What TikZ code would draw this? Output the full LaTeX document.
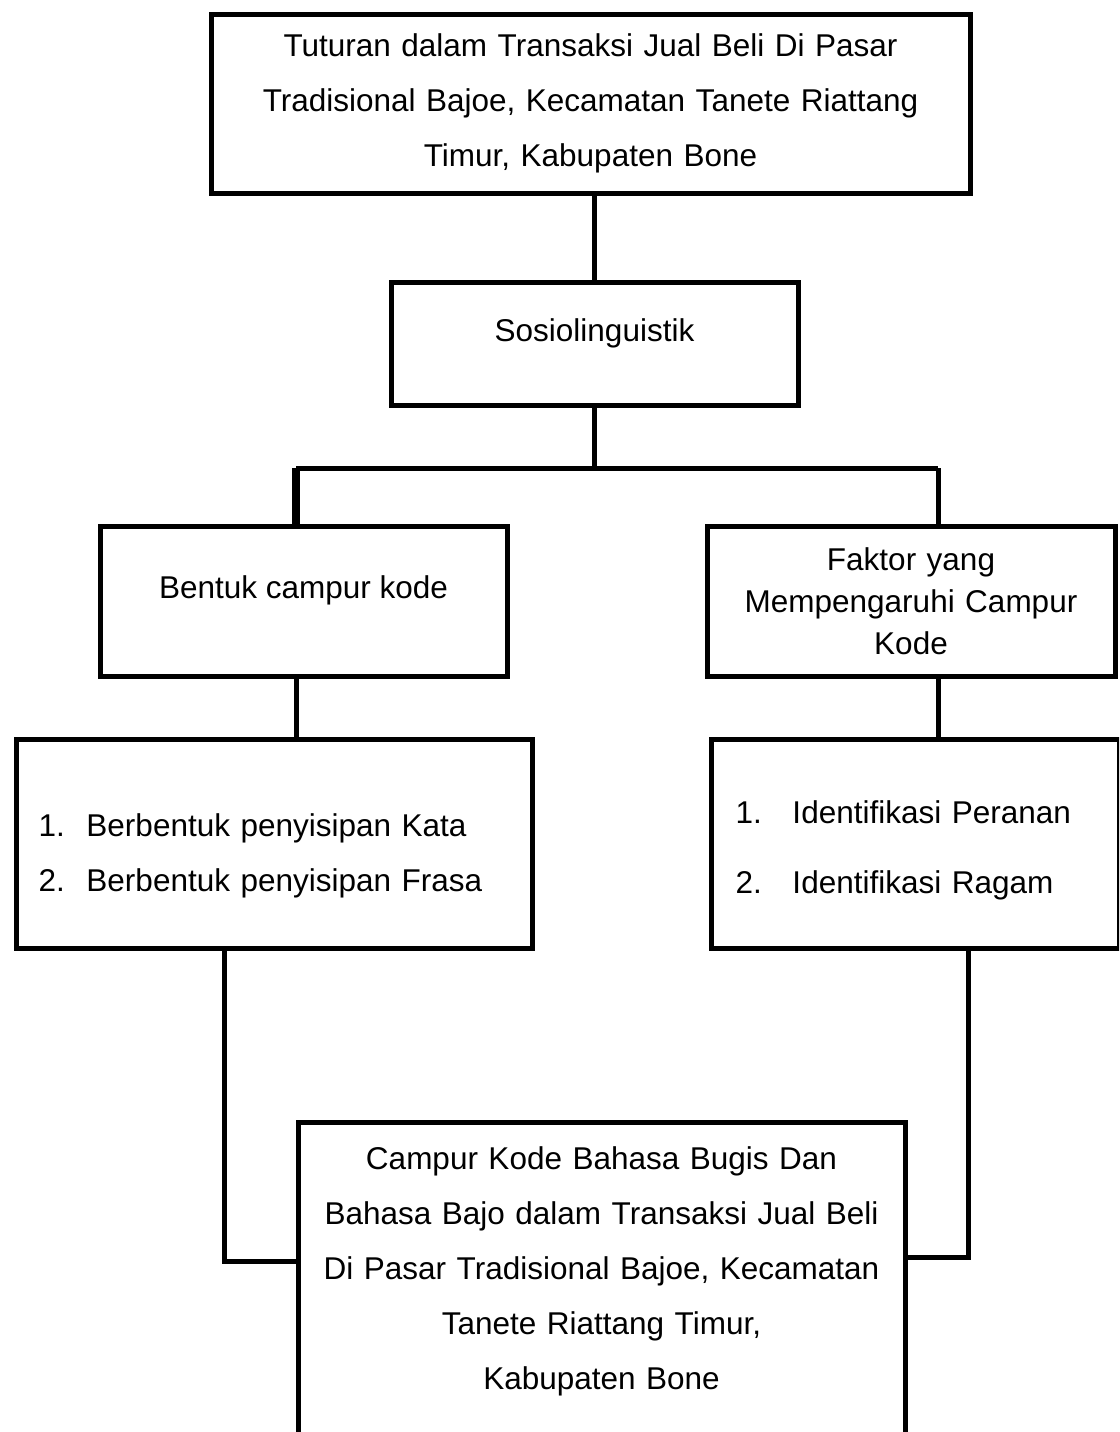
\documentclass[tikz,border=0pt]{standalone}
\usepackage{fontspec}
\setmainfont{Liberation Sans}

\tikzset{every picture/.style={line width=5pt}}
\tikzset{
  box/.style={draw, line width=5pt, inner sep=0pt, font=\fontsize{31.5}{55}\selectfont},
  num/.style={}
}
\newcommand{\itemno}[2][48pt]{\makebox[#1][l]{#2}}

\begin{document}
\begin{tikzpicture}[x=1pt,y=1pt,yscale=-1,xscale=1]
\clip (0,0) rectangle (1119,1432); %set diagram size

%Shape: Rectangle [tutur]
\node [box, anchor=north, text width=759pt, align=center, text height=42pt, text depth=137pt] (tutur) at (590.5,12) {Tuturan dalam Transaksi Jual Beli Di Pasar\\Tradisional Bajoe, Kecamatan Tanete Riattang\\Timur, Kabupaten Bone};
%Shape: Rectangle [socio]
\node [box, anchor=north, minimum width=407pt, text height=59pt, text depth=64pt] (socio) at (594.5,280) {Sosiolinguistik};
%Shape: Rectangle [bentuk]
\node [box, anchor=north, minimum width=407pt, text height=72pt, text depth=78pt] (bentuk) at (303.5,524) {Bentuk campur kode};
%Shape: Rectangle [faktor]
\node [box, anchor=north, text width=408pt, align=center, text height=44pt, text depth=106pt, font=\fontsize{31.5}{42}\selectfont] (faktor) at (911,524) {Faktor yang\\Mempengaruhi Campur\\Kode};
%Shape: Rectangle [bentuklist]
\node [box, anchor=north west, text width=472pt, inner xsep=22pt, align=left, text height=97pt, text depth=112pt] (bentuklist) at (14,737) {\itemno{1.}Berbentuk penyisipan Kata\\\itemno{2.}Berbentuk penyisipan Frasa};
%Shape: Rectangle [faktorlist]
\node [box, anchor=north west, text width=360pt, inner xsep=24pt, align=left, text height=84pt, text depth=125pt, font=\fontsize{31.5}{70}\selectfont] (faktorlist) at (709,737) {\itemno[57pt]{1.}Identifikasi Peranan\\\itemno[57pt]{2.}Identifikasi Ragam};
%Shape: Rectangle [campur]
\node [box, anchor=north, text width=607pt, align=center, text height=47pt, text depth=300pt] (campur) at (601.5,1120) {Campur Kode Bahasa Bugis Dan\\Bahasa Bajo dalam Transaksi Jual Beli\\Di Pasar Tradisional Bajoe, Kecamatan\\Tanete Riattang Timur,\\Kabupaten Bone};

%Straight Lines
\coordinate (barL) at (296,468);
\coordinate (barR) at (938,468);
\coordinate (elbowL) at (224,1261);
\coordinate (elbowR) at (968,1257);

\draw (tutur.south -| socio.north) -- (socio.north) ;
\draw (socio.south) -- (socio.south |- barL) ;
\draw (barL) -- (barR) ;
\draw [line width=8pt] (barL) -- (barL |- bentuk.north) ;
\draw (barR) -- (barR |- faktor.north) ;
\draw (barL |- bentuk.south) -- (barL |- bentuklist.north) ;
\draw (barR |- faktor.south) -- (barR |- faktorlist.north) ;
\draw (elbowL |- bentuklist.south) -- (elbowL) -- (elbowL -| campur.west) ;
\draw (elbowR |- faktorlist.south) -- (elbowR) -- (elbowR -| campur.east) ;

\end{tikzpicture}
\end{document}
